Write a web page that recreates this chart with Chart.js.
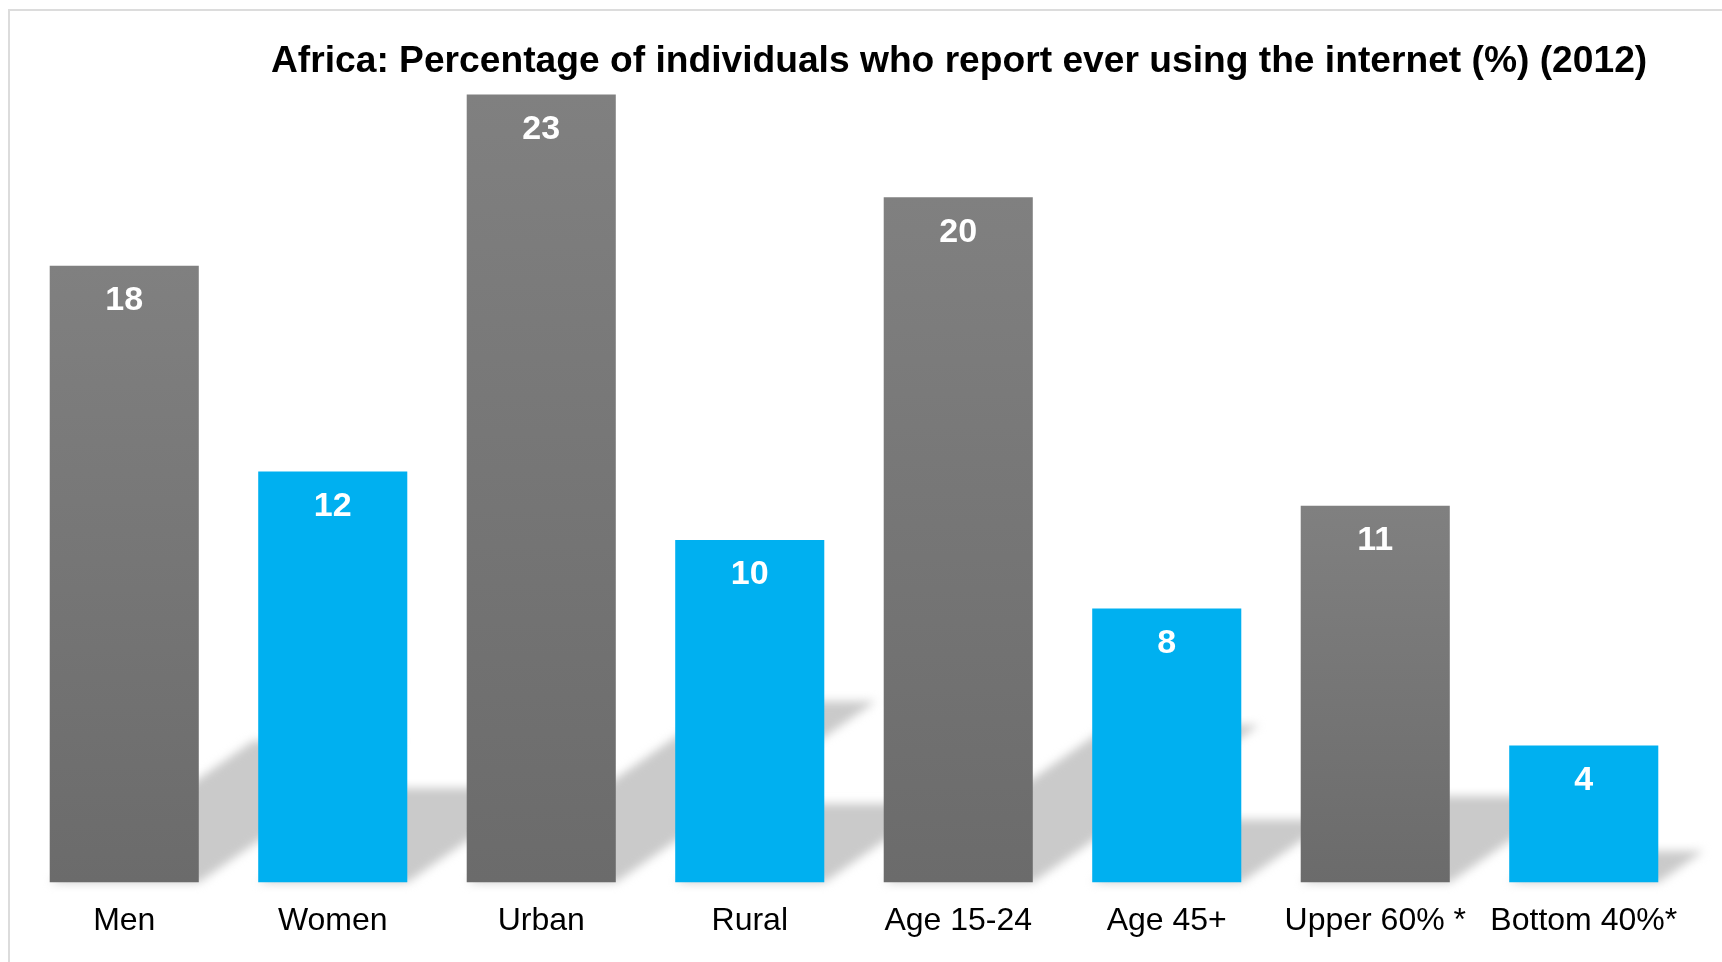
<!DOCTYPE html>
<html>
<head>
<meta charset="utf-8">
<script src="https://cdn.jsdelivr.net/npm/chart.js@4.4.1/dist/chart.umd.min.js"></script>
<style>
  html, body { margin: 0; padding: 0; background: #fff; overflow: hidden; }
  #wrap { position: relative; width: 1722px; height: 962px; }
  #frame {
    position: absolute; left: 8px; top: 9px; width: 2000px; height: 2000px;
    border: 2px solid #dcdcdc; box-sizing: border-box;
  }
  #chart { position: absolute; left: 0; top: 0; }
  #title {
    position: absolute; left: 271px; top: 37px; white-space: nowrap;
    font: bold 37.2px 'Liberation Sans', Arial, sans-serif; line-height: 44px; color: #000;
  }
</style>
</head>
<body>
<div id="wrap">
  <div id="frame"></div>
  <canvas id="chart" width="1722" height="962"></canvas>
  <div id="title">Africa: Percentage of individuals who report ever using the internet (%) (2012)</div>
</div>
<script>
const categories = ['Men', 'Women', 'Urban', 'Rural', 'Age 15-24', 'Age 45+', 'Upper 60% *', 'Bottom 40%*'];
const values = [18, 12, 23, 10, 20, 8, 11, 4];

const FONT = "'Liberation Sans', Arial, sans-serif";
const BLUE = '#00b0f0';

// grey bars get a vertical gradient over their own height, blue ones are flat
function barColor(context) {
  if (context.dataIndex % 2 === 1) return BLUE;
  const chart = context.chart;
  if (!chart.chartArea) return '#777777';
  const y = chart.scales.y;
  const top = y.getPixelForValue(values[context.dataIndex]);
  const bottom = y.getPixelForValue(0);
  const g = chart.ctx.createLinearGradient(0, top, 0, bottom);
  g.addColorStop(0, '#808080');
  g.addColorStop(1, '#6b6b6b');
  return g;
}

// slanted floor shadow behind each bar, thrown to the upper right
const floorShadow = {
  id: 'floorShadow',
  beforeDatasetsDraw(chart) {
    const ctx = chart.ctx;
    const meta = chart.getDatasetMeta(0);
    ctx.save();
    ctx.filter = 'blur(5px)';
    ctx.fillStyle = '#cacaca';
    ctx.beginPath();
    for (const bar of meta.data) {
      const { x, y, base, width } = bar.getProps(['x', 'y', 'base', 'width'], true);
      const h = base - y;
      const dx = h * 0.33;
      const dy = h * 0.23;
      ctx.moveTo(x - width / 2, base);
      ctx.lineTo(x + width / 2, base);
      ctx.lineTo(x + width / 2 + dx, base - dy);
      ctx.lineTo(x - width / 2 + dx, base - dy);
      ctx.closePath();
    }
    ctx.fill();
    ctx.restore();
  },
};

const valueLabels = {
  id: 'valueLabels',
  afterDatasetsDraw(chart) {
    const ctx = chart.ctx;
    const meta = chart.getDatasetMeta(0);
    ctx.save();
    ctx.font = 'bold 34px ' + FONT;
    ctx.fillStyle = '#ffffff';
    ctx.textAlign = 'center';
    ctx.textBaseline = 'middle';
    meta.data.forEach((bar, i) => {
      ctx.fillText(String(values[i]), bar.x, bar.y + 35);
    });
    ctx.restore();
  },
};

new Chart(document.getElementById('chart'), {
  type: 'bar',
  data: {
    labels: categories,
    datasets: [{
      data: values,
      backgroundColor: barColor,
      borderWidth: 0,
      barPercentage: 0.715,
      categoryPercentage: 1,
    }],
  },
  options: {
    responsive: false,
    animation: false,
    layout: { padding: { left: 20, right: 34, top: 26, bottom: 3 } },
    scales: {
      y: { display: false, min: 0, max: 25 },
      x: {
        grid: { display: false, drawTicks: false },
        border: { display: false },
        ticks: { color: '#000', font: { family: FONT, size: 32 }, padding: 19, maxRotation: 0 },
      },
    },
    plugins: {
      legend: { display: false },
      tooltip: { enabled: false },
    },
  },
  plugins: [floorShadow, valueLabels],
});
</script>
</body>
</html>
